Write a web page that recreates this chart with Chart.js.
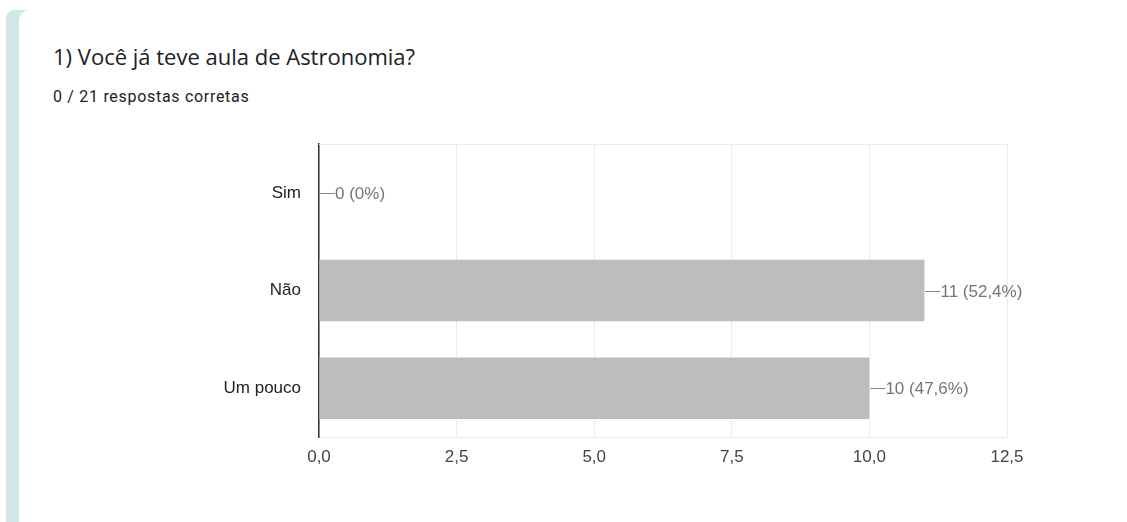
<!DOCTYPE html>
<html>
<head>
<meta charset="utf-8">
<script src="https://cdn.jsdelivr.net/npm/chart.js@4.4.0/dist/chart.umd.min.js"></script>
<style>
  html, body { margin: 0; padding: 0; background: #ffffff; }
  body { width: 1127px; height: 522px; position: relative; overflow: hidden; }
  .strip { position: absolute; left: 6px; top: 10px; width: 22px; height: 512px;
           background: #d3e6ea; border-top-left-radius: 8px; }
  .card { position: absolute; left: 19px; top: 10px; width: 1108px; height: 512px;
          background: #ffffff; border-top-left-radius: 10px; }
  .title { position: absolute; left: 53px; top: 41px; font-family: "Open Sans", Roboto, sans-serif;
           font-size: 22px; color: #202124; white-space: nowrap; }
  .sub { position: absolute; left: 53px; top: 87px; font-family: Roboto, "Noto Sans", sans-serif;
         font-size: 16px; color: #202124; letter-spacing: 0.7px; white-space: nowrap; }
  #wrap { position: absolute; left: 200px; top: 130px; width: 860px; height: 350px; }
</style>
</head>
<body>
<div class="strip"></div>
<div class="card"></div>
<div class="title">1) Você já teve aula de Astronomia?</div>
<div class="sub">0 / 21 respostas corretas</div>
<div id="wrap"><canvas id="c" width="860" height="350"></canvas></div>
<script>
// Answers to the question and how many respondents picked each one
const categories = ["Sim", "Não", "Um pouco"];
const counts = [0, 11, 10];
const totalResponses = 21;
const xTicks = [0, 2.5, 5, 7.5, 10, 12.5];

const FONT = "Arial, 'Liberation Sans', sans-serif";
const fmtTick = v => v.toFixed(1).replace(".", ",");
const fmtPct = v => {
  const p = Math.round(v / totalResponses * 1000) / 10;
  return (Number.isInteger(p) ? String(p) : p.toFixed(1)).replace(".", ",") + "%";
};

// Leader line + "count (percent)" annotation after each bar, plus the frame's top line
const valueLabels = {
  id: "valueLabels",
  afterDatasetsDraw(chart) {
    const { ctx, chartArea, scales } = chart;
    ctx.save();
    ctx.strokeStyle = "#ebebeb";
    ctx.lineWidth = 1;
    ctx.beginPath();
    ctx.moveTo(chartArea.left, chartArea.top + 0.5);
    ctx.lineTo(chartArea.right, chartArea.top + 0.5);
    ctx.stroke();

    ctx.font = "17px " + FONT;
    ctx.textBaseline = "middle";
    ctx.textAlign = "left";
    counts.forEach((v, i) => {
      const x = scales.x.getPixelForValue(v);
      const y = Math.round(scales.y.getPixelForValue(i)) + 0.5;
      ctx.strokeStyle = "#8a8a8a";
      ctx.beginPath();
      ctx.moveTo(x + 1, y);
      ctx.lineTo(x + 16, y);
      ctx.stroke();
      ctx.fillStyle = "#757575";
      ctx.fillText(v + " (" + fmtPct(v) + ")", x + 16, y + 1);
    });
    ctx.restore();
  }
};

new Chart(document.getElementById("c"), {
  type: "bar",
  data: {
    labels: categories,
    datasets: [{
      data: counts,
      backgroundColor: "#bdbdbd",
      borderWidth: 0,
      barPercentage: 0.63,
      categoryPercentage: 1
    }]
  },
  options: {
    indexAxis: "y",
    responsive: false,
    animation: false,
    layout: { padding: { top: 14, right: 53, left: 0, bottom: 0 } },
    plugins: { legend: { display: false }, tooltip: { enabled: false } },
    scales: {
      x: {
        min: 0,
        max: 12.5,
        afterBuildTicks: s => { s.ticks = xTicks.map(v => ({ value: v })); },
        afterFit: s => { s.height = 43; s.paddingLeft = 0; s.paddingRight = 0; },
        grid: { color: "#ebebeb", drawTicks: false },
        border: { color: "#ebebeb" },
        ticks: {
          padding: 10,
          color: "#444444",
          font: { family: FONT, size: 17 },
          callback: v => fmtTick(v)
        }
      },
      y: {
        afterFit: s => { s.width = 119; s.paddingTop = 0; s.paddingBottom = 0; },
        grid: { display: false, drawTicks: false },
        border: { color: "#333333", width: 1.5 },
        ticks: {
          padding: 18,
          color: "#222222",
          font: { family: FONT, size: 17 }
        }
      }
    }
  },
  plugins: [valueLabels]
});
</script>
</body>
</html>
